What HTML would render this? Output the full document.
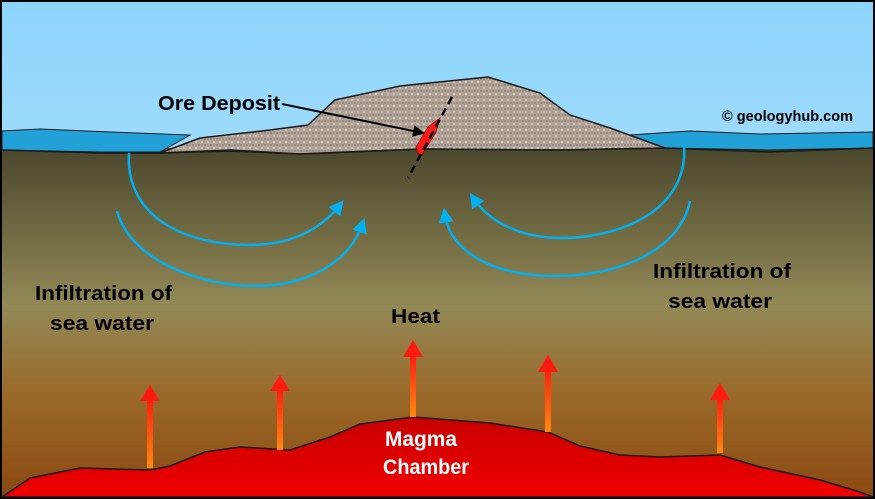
<!DOCTYPE html>
<html><head><meta charset="utf-8"><style>
html,body{margin:0;padding:0;background:#000}
svg{display:block}
text{font-family:"Liberation Sans Narrow","Liberation Sans",sans-serif;font-weight:bold}
</style></head><body>
<svg width="875" height="499" viewBox="0 0 875 499" xmlns="http://www.w3.org/2000/svg">
<defs>
<linearGradient id="sky" x1="0" y1="0" x2="0" y2="1"><stop offset="0" stop-color="#8cd4fd"/><stop offset="1" stop-color="#c9ecfb"/></linearGradient>
<linearGradient id="gr" gradientUnits="userSpaceOnUse" x1="0" y1="148" x2="0" y2="499"><stop offset="0" stop-color="#4b472d"/><stop offset="0.45" stop-color="#928956"/><stop offset="0.7" stop-color="#9a6a2a"/><stop offset="1" stop-color="#8a4810"/></linearGradient>
<linearGradient id="mag" x1="0" y1="0" x2="0" y2="1"><stop offset="0" stop-color="#c80000"/><stop offset="1" stop-color="#f00000"/></linearGradient>
<linearGradient id="ar" x1="0" y1="1" x2="0" y2="0"><stop offset="0" stop-color="#ff8a10"/><stop offset="1" stop-color="#ff1a10"/></linearGradient>
<pattern id="rock" width="6" height="6" patternUnits="userSpaceOnUse"><rect width="6" height="6" fill="#b1a397"/><circle cx="1" cy="1" r="1" fill="#8e8178"/><circle cx="4" cy="4" r="1" fill="#d4cbc1"/><circle cx="4" cy="1" r=".6" fill="#7d7169"/></pattern>
<marker id="bh" markerWidth="6" markerHeight="6" refX="3" refY="3" orient="auto" markerUnits="strokeWidth"><path d="M0,0 L6,3 L0,6 z" fill="#00b0f0"/></marker>
<marker id="kh" markerWidth="6" markerHeight="6" refX="5" refY="3" orient="auto" markerUnits="strokeWidth"><path d="M0,0 L6,3 L0,6 z" fill="#000"/></marker>
</defs>
<rect x="2" y="2" width="871" height="495" fill="url(#sky)"/>
<rect x="2" y="148" width="871" height="349" fill="url(#gr)"/>
<path d="M2,131 L40,129 L110,132 L190,135 L160,152 L100,152 L2,150 Z" fill="#21a1d8" stroke="#1a1a1a" stroke-width="1"/>
<path d="M630,135 L690,131 L760,134 L873,132 L873,148 L770,150 L665,148 Z" fill="#21a1d8" stroke="#1a1a1a" stroke-width="1"/>
<path d="M160,153 L200,138 L270,130 L308,125 L335,100 L400,86 L488,77 L540,93 L570,115 L610,128 L665,148 L560,150 L420,149 L300,154 L230,151 Z" fill="url(#rock)" stroke="#1a1a1a" stroke-width="1.5"/>
<path d="M2,150 L100,153 L160,153 L230,150 L300,154 L420,149 L560,150 L665,148 L770,152 L873,148" fill="none" stroke="#1a1a1a" stroke-width="1.5"/>
<path d="M440,118 L436,132 L420,158 L416,147 L428,127 Z" fill="#ff1a1a" stroke="#900" stroke-width="0.8"/>
<line x1="452" y1="97" x2="408" y2="178" stroke="#000" stroke-width="2.5" stroke-dasharray="8,5"/>
<line x1="282" y1="104" x2="423" y2="133" stroke="#000" stroke-width="2" marker-end="url(#kh)"/>
<g fill="none" stroke="#00b0f0" stroke-width="2.5" marker-end="url(#bh)">
<path d="M129,153 C125,220 190,245 249,245 C290,245 320,230 339,206"/>
<path d="M117,211 C130,260 200,286 255,286 C310,286 350,260 362,225"/>
<path d="M684,147 C688,210 620,238 562,238 C520,238 490,222 474,199"/>
<path d="M690,201 C680,250 620,276 556,276 C490,276 450,250 445,215"/>
</g>
<path d="M2,497 L30,478 L80,468 L150,470 L170,466 L205,452 L240,447 L290,450 L330,437 L360,424 L413,417 L490,423 L548,432 L580,446 L620,455 L660,457 L720,455 L760,467 L820,480 L860,492 L873,497 Z" fill="url(#mag)" stroke="#1a1a1a" stroke-width="1.5"/>
<g fill="url(#ar)">
<rect x="147" y="398" width="6" height="70"/><path d="M140,401 L150,385 L160,401 Z" fill="#ff1a10"/>
<rect x="277" y="388" width="6" height="62"/><path d="M270,391 L280,375 L290,391 Z" fill="#ff1a10"/>
<rect x="410" y="353" width="6" height="64"/><path d="M403,357 L413,340 L423,357 Z" fill="#ff1a10"/>
<rect x="545" y="368" width="6" height="64"/><path d="M538,372 L548,355 L558,372 Z" fill="#ff1a10"/>
<rect x="717" y="396" width="6" height="57"/><path d="M710,400 L720,383 L730,400 Z" fill="#ff1a10"/>
</g>
<text x="158" y="110" font-size="20" fill="#000" textLength="122" lengthAdjust="spacingAndGlyphs">Ore Deposit</text>
<text x="722" y="121" font-size="15" fill="#000" font-weight="normal" textLength="131" lengthAdjust="spacingAndGlyphs">© geologyhub.com</text>
<text x="35" y="300" font-size="20" fill="#000" textLength="137" lengthAdjust="spacingAndGlyphs">Infiltration of</text>
<text x="50" y="330" font-size="20" fill="#000" textLength="104" lengthAdjust="spacingAndGlyphs">sea water</text>
<text x="653" y="278" font-size="20" fill="#000" textLength="138" lengthAdjust="spacingAndGlyphs">Infiltration of</text>
<text x="668" y="308" font-size="20" fill="#000" textLength="104" lengthAdjust="spacingAndGlyphs">sea water</text>
<text x="391" y="323" font-size="20" fill="#000" textLength="49" lengthAdjust="spacingAndGlyphs">Heat</text>
<text x="385" y="446" font-size="21" fill="#fff" textLength="72" lengthAdjust="spacingAndGlyphs">Magma</text>
<text x="383" y="474" font-size="21" fill="#fff" textLength="86" lengthAdjust="spacingAndGlyphs">Chamber</text>
</svg>
</body></html>
